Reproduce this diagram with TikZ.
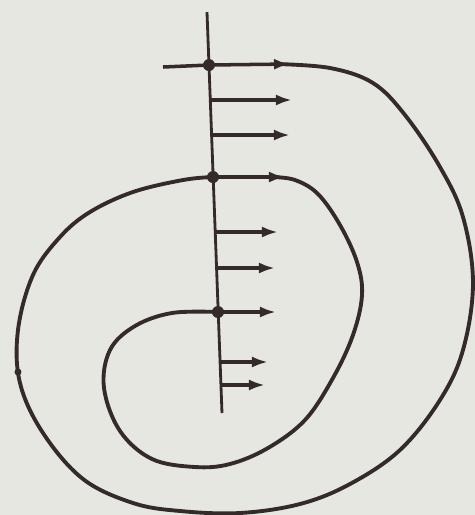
\documentclass[tikz,border=0pt]{standalone}
\usepackage{tikz}
\usetikzlibrary{arrows.meta}

\definecolor{paper}{RGB}{231,231,226}
\definecolor{ink}{RGB}{52,42,42}

\begin{document}
\begin{tikzpicture}[x=0.1mm,y=-0.1mm,
  streamline/.style={ink,line width=1.1pt,line cap=round},
  vec/.style={ink,line width=1pt,-{Latex[length=1.6mm,width=1.1mm]}},
  axis/.style={ink,line width=0.8pt}]
  \fill[paper] (0,0) rectangle (475,515);
  \useasboundingbox (0,0) rectangle (475,515);
  % axis through the three points
  \coordinate (top) at (207,12);
  \coordinate (bot) at (222,413);
  \coordinate (d1) at (209,65);
  \coordinate (d2) at (213,177);
  \coordinate (d3) at (218,312);
  \draw[axis] (top) -- (bot);
  \foreach \y/\e in {100/292,135/290,232/278,268/275,362/268,385/265}
    { \draw[vec] ({207+0.0374*(\y-12)},\y) -- (\e,\y); }
  % outer turn
  \draw[vec] (163,67) -- (d1) -- (290,64);
  \draw[streamline] plot[smooth,tension=0.6] coordinates {(276,64) (330,68) (373,83) (405,115)
    (440,167) (463,217) (473,283) (463,350) (440,400) (400,450) (350,484) (300,504) (240,513)
    (180,511) (133,503) (83,479) (43,433) (20,383) (18,330) (33,275) (60,237) (90,212)
    (133,192) (183,180) (d2)};
  % inner turn
  \draw[vec] (d2) -- (285,177);
  \draw[streamline] plot[smooth,tension=0.6] coordinates {(272,177) (295,180) (318,194) (340,225)
    (357,262) (362,295) (353,335) (333,378) (305,420) (268,448) (230,464) (195,467)
    (152,459) (120,431) (104,388) (110,350) (135,326) (172,313) (d3)};
  \draw[vec] (d3) -- (276,312);
  \foreach \p in {d1,d2,d3} { \fill[ink] (\p) circle (0.6mm); }
  \fill[ink] (18,372) circle (0.35mm);
\end{tikzpicture}
\end{document}
